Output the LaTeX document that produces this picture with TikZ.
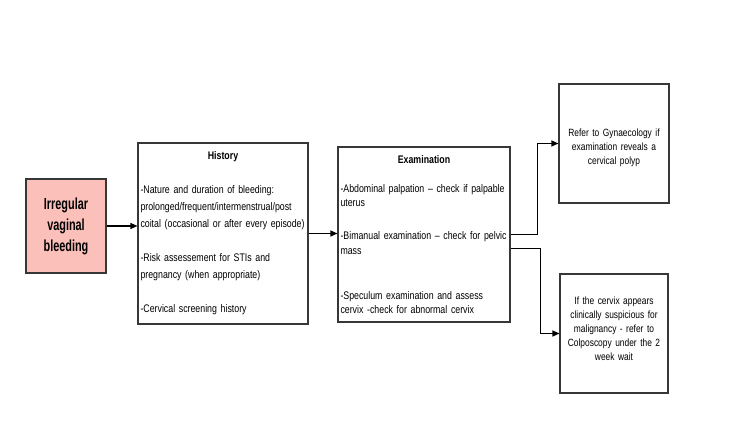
\documentclass[tikz,border=0pt]{standalone}
\usepackage{fontspec}
\setmainfont{Liberation Sans}[FakeStretch=0.8]
\newfontfamily\narrowfont{Liberation Sans}[FakeStretch=0.68]
\usetikzlibrary{arrows.meta}
\definecolor{boxpink}{RGB}{252,192,186}
\definecolor{boxline}{RGB}{55,55,55}
\tikzset{
    flowbox/.style={draw=boxline,line width=1.1pt,rectangle,inner xsep=2.5pt,inner ysep=0pt},
    flowarrow/.style={draw=black,line width=1.1pt,-{Triangle[length=7pt,width=6pt]}}
}
\begin{document}
\begin{tikzpicture}[x=1pt,y=1pt]
        \useasboundingbox (0,0) rectangle (731,437);
        \begin{scope}[every node/.style={flowbox}]
            \node[fill=boxpink,minimum width=80pt,minimum height=94pt,align=center,
                font={\narrowfont\fontsize{16}{21}\selectfont\bfseries}] (bleed) at (66,211)
                {Irregular\\vaginal\\bleeding};
            \node[minimum width=170pt,minimum height=181pt,text width=165pt,align=left,
                font={\fontsize{11}{17}\selectfont}] (hist) at (223,203.5)
                {{\centering\bfseries History\par}\vspace{17pt}
                 -Nature and duration of bleeding:\\
                 prolonged/frequent/intermenstrual/post\\
                 coital (occasional or after every episode)\par\vspace{17pt}
                 -Risk assessement for STIs and\\
                 pregnancy (when appropriate)\par\vspace{17pt}
                 -Cervical screening history};
            \node[minimum width=172pt,minimum height=175pt,text width=167pt,align=left,
                font={\fontsize{11}{14.5}\selectfont}] (exam) at (424,202.5)
                {{\centering\bfseries Examination\par}\vspace{14.5pt}
                 -Abdominal palpation -- check if palpable\\
                 uterus\par\vspace{18.5pt}
                 -Bimanual examination -- check for pelvic\\
                 mass\par\vspace{30.5pt}
                 -Speculum examination and assess\\
                 cervix -check for abnormal cervix};
            \node[minimum width=110pt,minimum height=119pt,text width=105pt,align=center,
                font={\fontsize{10.5}{14}\selectfont}] (gyn) at (614,293.5)
                {\rule{0pt}{16.5pt}Refer to Gynaecology if\\examination reveals a\\cervical polyp};
            \node[minimum width=108pt,minimum height=119pt,text width=103pt,align=center,
                font={\fontsize{10.5}{14}\selectfont}] (colp) at (614,103.5)
                {If the cervix appears\\clinically suspicious for\\malignancy - refer to\\Colposcopy under the 2\\week wait\rule[-9.5pt]{0pt}{1pt}};
        \end{scope}

        \begin{scope}[every path/.style={flowarrow}]
            \path (bleed.east) -- (bleed.east -| hist.west);
            \path (hist.east) -- (hist.east -| exam.west);
            \path (exam.east) -- ++(27,0) |- (gyn.west);
            \path ([yshift=-14pt]exam.east) -- ++(30,0) |- (colp.west);
        \end{scope}
    \end{tikzpicture}
\end{document}
